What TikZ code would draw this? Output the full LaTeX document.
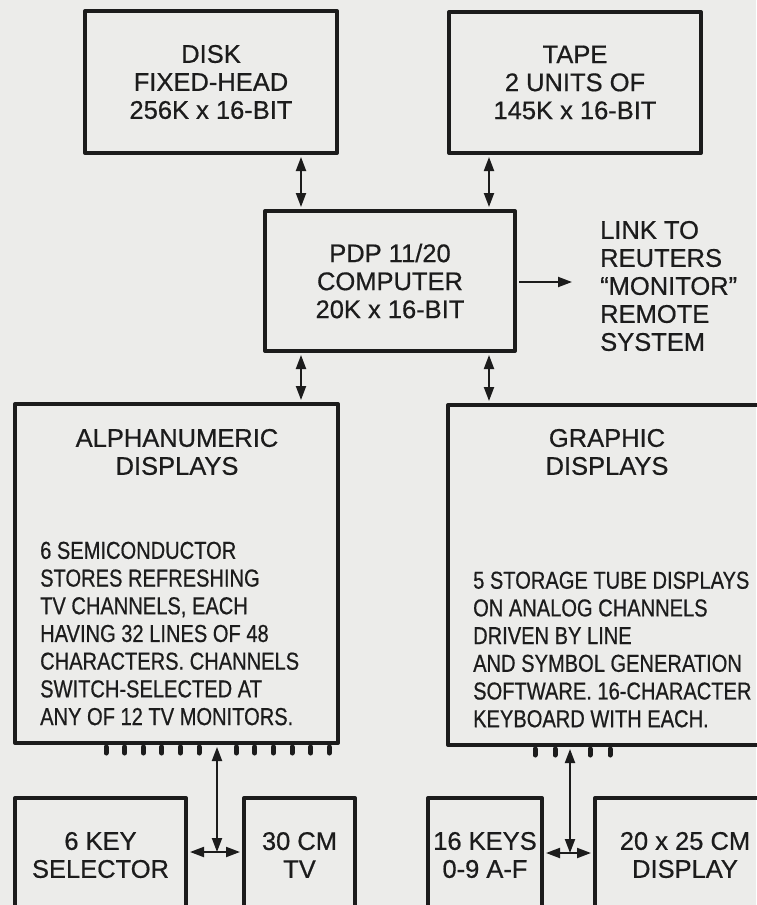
\documentclass[tikz,border=0pt]{standalone}
\usepackage{fontspec}
\setmainfont{Liberation Sans}[FakeBold=0.6]
\newfontfamily\condfont[FakeStretch=0.82,FakeBold=0.6]{Liberation Sans}
\usepackage{tikz}
\usetikzlibrary{arrows.meta}
\definecolor{paper}{RGB}{236,236,234}
\definecolor{ink}{RGB}{28,28,28}
\tikzset{
  unitbox/.style={draw=ink, line width=4pt, line join=round, inner sep=0pt},
  headtext/.style={text=ink, align=center, inner sep=0pt, font=\fontsize{25.5}{28}\selectfont},
  bodytext/.style={text=ink, align=left, inner sep=0pt, font=\condfont\fontsize{24.5}{27.7}\selectfont},
  bus/.style={draw=ink, line width=2pt, <->},
  pintick/.style={draw=ink, line width=5pt, line cap=round},
}

\begin{document}
\begin{tikzpicture}[x=1pt,y=-1pt,>={Triangle[length=14pt,width=10pt]}]
\fill[paper] (0,0) rectangle (756,905);
\useasboundingbox (0,0) rectangle (756,905);

% storage and processor
\node[unitbox,headtext,minimum width=252pt,minimum height=142pt] (disk) at (211,82) {DISK\\FIXED-HEAD\\256K x 16-BIT};
\node[unitbox,headtext,minimum width=252pt,minimum height=141pt] (tape) at (575,82.5) {TAPE\\2 UNITS OF\\145K x 16-BIT};
\node[unitbox,headtext,minimum width=250pt,minimum height=140pt] (pdp) at (390,281) {PDP 11/20\\COMPUTER\\20K x 16-BIT};
\node[headtext,anchor=west,align=left] (link) at (600,286) {LINK TO\\REUTERS\\“MONITOR”\\REMOTE\\SYSTEM};

% display units
\node[unitbox,minimum width=323pt,minimum height=339pt] (alpha) at (176.5,573.5) {};
\node[headtext] (alphatitle) at (177,452) {ALPHANUMERIC\\DISPLAYS};
\node[bodytext,anchor=west] (alphabody) at (40,633.5) {6 SEMICONDUCTOR\\STORES REFRESHING\\TV CHANNELS, EACH\\HAVING 32 LINES OF 48\\CHARACTERS. CHANNELS\\SWITCH-SELECTED AT\\ANY OF 12 TV MONITORS.};
\node[unitbox,minimum width=324pt,minimum height=340pt] (graph) at (610,575) {};
\node[headtext] (graphtitle) at (607,452) {GRAPHIC\\DISPLAYS};
\node[bodytext,anchor=west] (graphbody) at (473,649.5) {5 STORAGE TUBE DISPLAYS\\ON ANALOG CHANNELS\\DRIVEN BY LINE\\AND SYMBOL GENERATION\\SOFTWARE. 16-CHARACTER\\KEYBOARD WITH EACH.};

% terminals
\node[unitbox,headtext,minimum width=171pt,minimum height=114pt] (key6) at (100.5,855) {6 KEY\\SELECTOR};
\node[unitbox,headtext,minimum width=111pt,minimum height=114pt] (tv) at (299.5,855) {30 CM\\TV};
\node[unitbox,headtext,minimum width=114pt,minimum height=114pt] (key16) at (485,855) {16 KEYS\\0-9 A-F};
\node[unitbox,headtext,minimum width=180pt,minimum height=114pt] (disp) at (685,855) {20 x 25 CM\\DISPLAY};

% connectors
\coordinate (busL) at (301,0);
\coordinate (busR) at (489,0);
\coordinate (linkend) at (572,282);
\coordinate (alphabus) at (217,852);
\coordinate (graphbus) at (570,853);
\draw[bus,shorten <=2pt,shorten >=2pt] (disk.south -| busL) -- (pdp.north -| busL);
\draw[bus,shorten <=2pt,shorten >=2pt] (tape.south -| busR) -- (pdp.north -| busR);
\draw[bus,shorten <=2pt,shorten >=2pt] (pdp.south -| busL) -- (alpha.north -| busL);
\draw[bus,shorten <=2pt,shorten >=2pt] (pdp.south -| busR) -- (graph.north -| busR);
\draw[draw=ink,line width=2pt,->,shorten <=2pt] (pdp.east |- linkend) -- (linkend);
\draw[bus,shorten <=2pt] (alpha.south -| alphabus) -- (alphabus);
\draw[bus,shorten <=2pt,shorten >=2pt] (key6.east |- alphabus) -- (tv.west |- alphabus);
\draw[bus,shorten <=2pt] (graph.south -| graphbus) -- (graphbus);
\draw[bus,shorten <=2pt,shorten >=2pt] (key16.east |- graphbus) -- (disp.west |- graphbus);

% monitor outlets
\foreach \i in {0,...,5,7,8,...,12}
  \draw[pintick] (106+\i*18.6,747) -- +(0,6);
\foreach \x in {535,555,590,610}
  \draw[pintick] (\x,749) -- +(0,6);
\end{tikzpicture}
\end{document}
